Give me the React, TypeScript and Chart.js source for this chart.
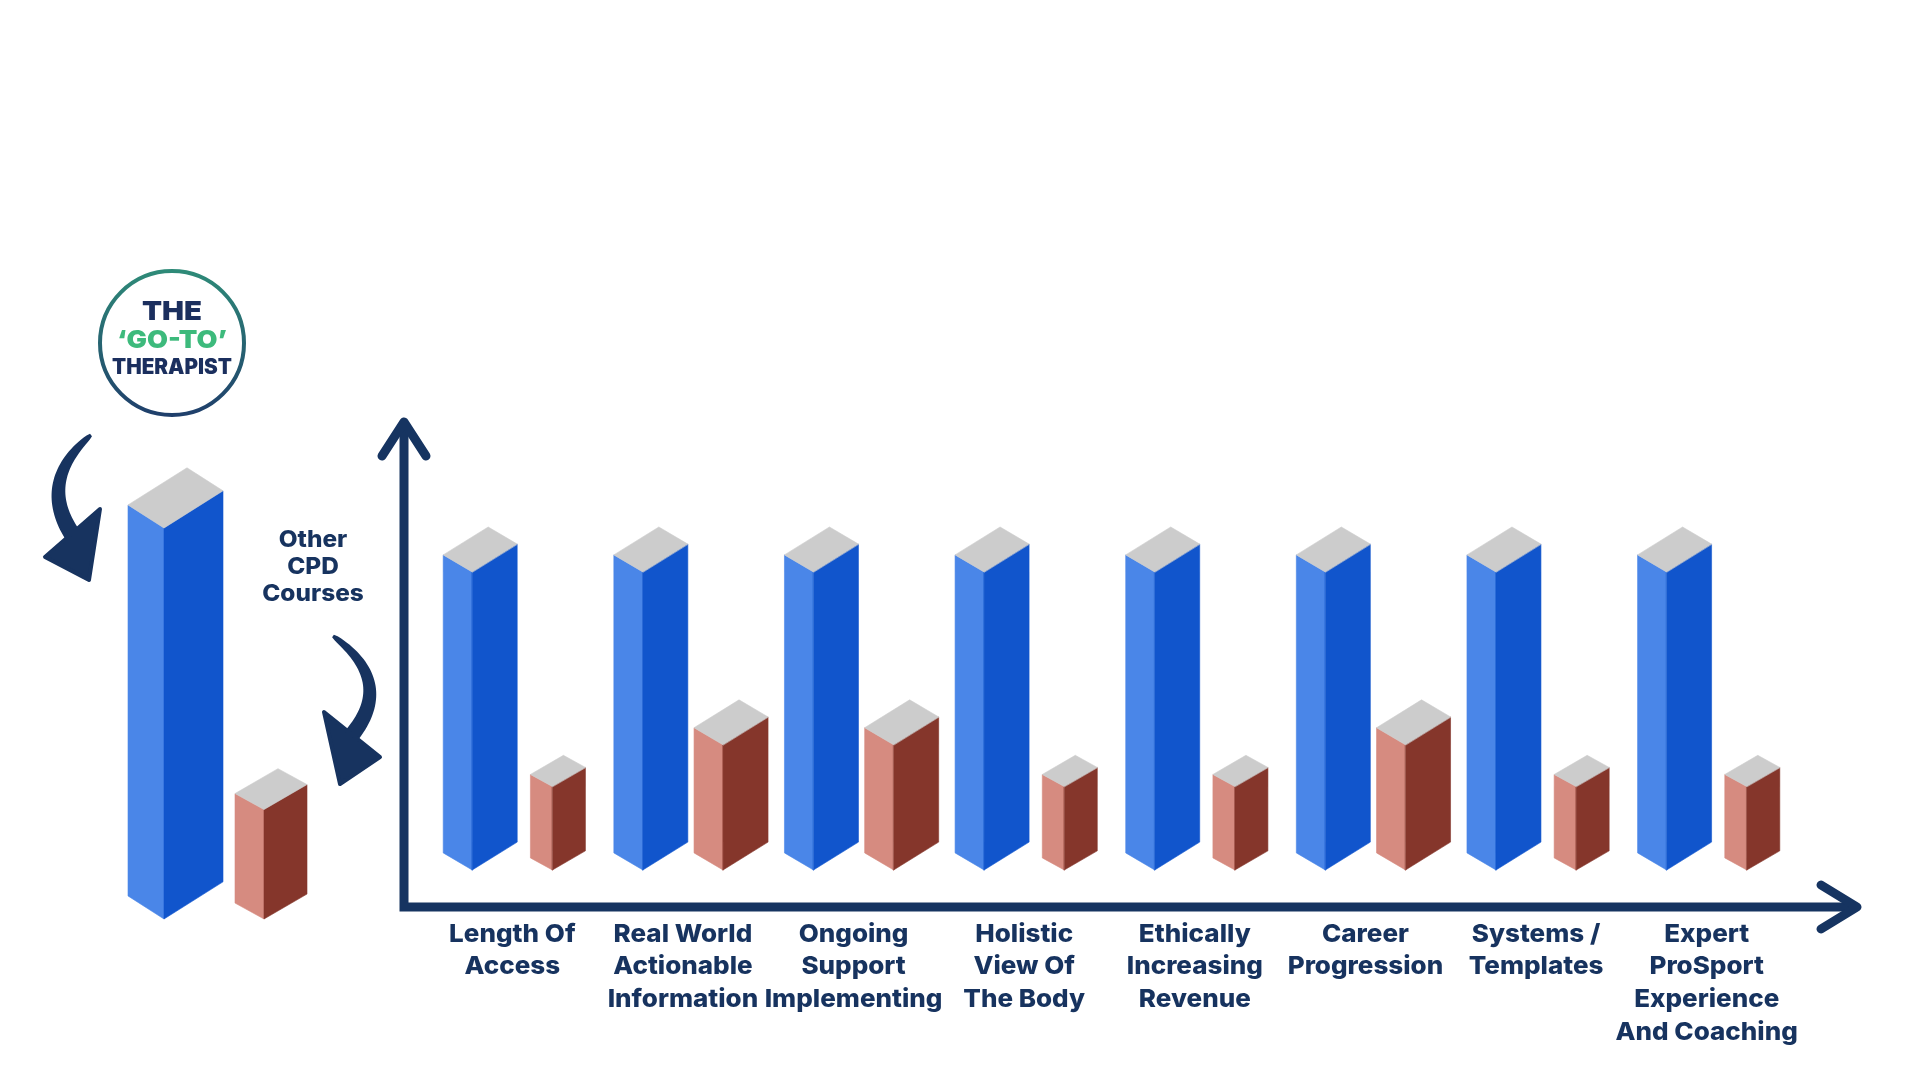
import React, { useEffect, useRef } from "react";
import { Chart, registerables } from "chart.js";

Chart.register(...registerables);

// ---------- DATA ----------
const categories: string[][] = [
  ["Length Of", "Access"],
  ["Real World", "Actionable", "Information"],
  ["Ongoing", "Support", "Implementing"],
  ["Holistic", "View Of", "The Body"],
  ["Ethically", "Increasing", "Revenue"],
  ["Career", "Progression"],
  ["Systems /", "Templates"],
  ["Expert", "ProSport", "Experience", "And Coaching"],
];
const goToValues = [100, 100, 100, 100, 100, 100, 100, 100];
const otherCpdValues = [28, 42, 42, 28, 28, 42, 28, 28];
const seriesNames = ["THE ‘GO-TO’ THERAPIST", "Other CPD Courses"];

const legendLabels: string[][] = [
  ["THE", "‘GO-TO’", "THERAPIST"],
  ["Other", "CPD", "Courses"],
];
const legendValues = [100, 28];
const yMax = 100;

// ---------- STYLE ----------
const NAVY = "#17335f";
const GREEN = "#3dba7c";
const BLUE = { left: "#4a86e8", right: "#1155cc", top: "#cccccc" };
const RED = { left: "#d68b80", right: "#85362b", top: "#cccccc" };
const FONT = "Inter, 'Open Sans', sans-serif";

type Faces = { left: string; right: string; top: string };

function poly(ctx: CanvasRenderingContext2D, pts: number[][], color: string) {
  ctx.fillStyle = color;
  ctx.strokeStyle = color;
  ctx.lineWidth = 0.6;
  ctx.beginPath();
  ctx.moveTo(pts[0][0], pts[0][1]);
  for (let i = 1; i < pts.length; i++) ctx.lineTo(pts[i][0], pts[i][1]);
  ctx.closePath();
  ctx.fill();
  ctx.stroke();
}

function drawBox(
  ctx: CanvasRenderingContext2D,
  x: number,
  top: number,
  base: number,
  wl: number,
  wr: number,
  sl: number,
  sr: number,
  c: Faces
) {
  const hl = wl * sl;
  const hr = wr * sr;
  poly(ctx, [[x, top], [x - wl, top - hl], [x - wl, base - hl], [x, base]], c.left);
  poly(ctx, [[x, top], [x + wr, top - hr], [x + wr, base - hr], [x, base]], c.right);
  poly(
    ctx,
    [[x, top], [x - wl, top - hl], [x - wl + wr, top - hl - hr], [x + wr, top - hr]],
    c.top
  );
}

function stretchText(ctx: CanvasRenderingContext2D, text: string, x: number, y: number, sx: number) {
  ctx.save();
  ctx.translate(x, y);
  ctx.scale(sx, 1);
  ctx.fillText(text, 0, 0);
  ctx.restore();
}

function fitText(ctx: CanvasRenderingContext2D, text: string, x: number, y: number, w: number) {
  const m = ctx.measureText(text).width || 1;
  stretchText(ctx, text, x, y, w / m);
}

function curvedArrow(
  ctx: CanvasRenderingContext2D,
  p0: number[],
  c: number[],
  p2: number[],
  w0: number,
  w1: number,
  head: number[][]
) {
  const N = 40;
  const L: number[][] = [];
  const R: number[][] = [];
  for (let i = 0; i <= N; i++) {
    const t = i / N;
    const a = (1 - t) * (1 - t), b = 2 * (1 - t) * t, d = t * t;
    const px = a * p0[0] + b * c[0] + d * p2[0];
    const py = a * p0[1] + b * c[1] + d * p2[1];
    const dx = 2 * (1 - t) * (c[0] - p0[0]) + 2 * t * (p2[0] - c[0]);
    const dy = 2 * (1 - t) * (c[1] - p0[1]) + 2 * t * (p2[1] - c[1]);
    const len = Math.hypot(dx, dy) || 1;
    const nx = -dy / len, ny = dx / len;
    const w = w0 + (w1 - w0) * Math.sqrt(t);
    L.push([px + (nx * w) / 2, py + (ny * w) / 2]);
    R.push([px - (nx * w) / 2, py - (ny * w) / 2]);
  }
  ctx.fillStyle = NAVY;
  ctx.strokeStyle = NAVY;
  ctx.beginPath();
  ctx.moveTo(L[0][0], L[0][1]);
  L.forEach((p) => ctx.lineTo(p[0], p[1]));
  for (let i = R.length - 1; i >= 0; i--) ctx.lineTo(R[i][0], R[i][1]);
  ctx.closePath();
  ctx.fill();
  ctx.lineJoin = "round";
  ctx.lineWidth = 4;
  ctx.beginPath();
  ctx.moveTo(head[0][0], head[0][1]);
  ctx.lineTo(head[1][0], head[1][1]);
  ctx.lineTo(head[2][0], head[2][1]);
  ctx.closePath();
  ctx.fill();
  ctx.stroke();
}

const mainBoxPlugin = {
  id: "mainBoxes",
  afterDatasetsDraw(chart: any) {
    const ctx: CanvasRenderingContext2D = chart.ctx;
    const area = chart.chartArea;
    ctx.save();
    // axes with arrows
    const ax = 404;
    const ay = area.bottom + 37;
    const yTop = area.top - 150;
    const xEnd = 1857;
    ctx.strokeStyle = "#163461";
    ctx.lineWidth = 9;
    ctx.lineJoin = "miter";
    ctx.lineCap = "butt";
    ctx.beginPath();
    ctx.moveTo(ax, yTop + 4);
    ctx.lineTo(ax, ay);
    ctx.lineTo(xEnd - 4, ay);
    ctx.stroke();
    ctx.lineCap = "round";
    ctx.lineJoin = "round";
    ctx.beginPath();
    ctx.moveTo(ax - 22, yTop + 34);
    ctx.lineTo(ax, yTop);
    ctx.lineTo(ax + 22, yTop + 34);
    ctx.stroke();
    ctx.beginPath();
    ctx.moveTo(xEnd - 36, ay - 22);
    ctx.lineTo(xEnd, ay);
    ctx.lineTo(xEnd - 36, ay + 22);
    ctx.stroke();

    // 3D bars
    const blueMeta = chart.getDatasetMeta(0);
    const redMeta = chart.getDatasetMeta(1);
    blueMeta.data.forEach((el: any) => {
      drawBox(ctx, el.x, el.y, el.base, 29, 45, 0.59, 0.62, BLUE);
    });
    redMeta.data.forEach((el: any, i: number) => {
      const v = otherCpdValues[i];
      if (v >= 40) drawBox(ctx, el.x, el.y, el.base, 29, 45, 0.59, 0.62, RED);
      else drawBox(ctx, el.x, el.y, el.base, 22, 33, 0.55, 0.58, RED);
    });

    // category labels
    const xs = chart.scales.x;
    ctx.fillStyle = NAVY;
    ctx.font = `800 25px ${FONT}`;
    ctx.textAlign = "center";
    ctx.textBaseline = "middle";
    categories.forEach((lines, i) => {
      const cx = xs.getPixelForValue(i);
      lines.forEach((ln, j) => stretchText(ctx, ln, cx, area.bottom + 64 + j * 32.7, 1.04));
    });
    ctx.restore();
  },
};

const legendPlugin = {
  id: "legendBoxes",
  afterDatasetsDraw(chart: any) {
    const ctx: CanvasRenderingContext2D = chart.ctx;
    ctx.save();
    const meta = chart.getDatasetMeta(0);
    const b = meta.data[0];
    const r = meta.data[1];
    drawBox(ctx, b.x, b.y, b.base, 36, 59, 0.64, 0.63, BLUE);
    drawBox(ctx, r.x, r.y, r.base, 29, 43, 0.55, 0.58, RED);

    // logo
    const cx = 172, cy = 343, rad = 72;
    const g = ctx.createLinearGradient(0, cy - rad, 0, cy + rad);
    g.addColorStop(0, "#2e8a78");
    g.addColorStop(1, "#1f3f6b");
    ctx.strokeStyle = g;
    ctx.lineWidth = 4;
    ctx.beginPath();
    ctx.arc(cx, cy, rad, 0, Math.PI * 2);
    ctx.stroke();
    ctx.textAlign = "center";
    ctx.textBaseline = "middle";
    const [l1, l2, l3] = legendLabels[0];
    ctx.fillStyle = "#1b2f5e";
    ctx.font = `900 26px ${FONT}`;
    fitText(ctx, l1, cx, 312, 60);
    ctx.fillStyle = GREEN;
    ctx.font = `900 25px ${FONT}`;
    fitText(ctx, l2, cx, 340, 110);
    ctx.fillStyle = "#1b2f5e";
    ctx.font = `900 21px ${FONT}`;
    fitText(ctx, l3, cx, 368, 120);

    // other CPD text
    ctx.fillStyle = NAVY;
    ctx.font = `800 23px ${FONT}`;
    legendLabels[1].forEach((ln, j) => stretchText(ctx, ln, 313, 540 + j * 27, 1.06));

    // curved arrows
    curvedArrow(ctx, [91, 435], [36, 482], [74, 537], 3, 17, [[45, 557], [89, 580], [100, 509]]);
    curvedArrow(ctx, [333, 636], [396, 682], [351, 736], 3, 16, [[324, 712], [340, 784], [380, 757]]);
    ctx.restore();
  },
};

export default function App() {
  const mainRef = useRef<HTMLCanvasElement | null>(null);
  const legRef = useRef<HTMLCanvasElement | null>(null);

  useEffect(() => {
    if (!mainRef.current || !legRef.current) return;
    const main = new Chart(mainRef.current, {
      type: "bar",
      data: {
        labels: categories,
        datasets: [
          { label: seriesNames[0], data: goToValues, backgroundColor: "rgba(0,0,0,0)" },
          { label: seriesNames[1], data: otherCpdValues, backgroundColor: "rgba(0,0,0,0)" },
        ],
      },
      options: {
        responsive: false,
        animation: false,
        devicePixelRatio: 1,
        events: [],
        layout: { padding: { left: 427, right: 128, top: 572, bottom: 210 } },
        categoryPercentage: 0.94,
        barPercentage: 0.9,
        scales: {
          x: { display: false },
          y: { display: false, min: 0, max: yMax },
        },
        plugins: { legend: { display: false }, tooltip: { enabled: false } },
      } as any,
      plugins: [mainBoxPlugin],
    });
    const leg = new Chart(legRef.current, {
      type: "bar",
      data: {
        labels: legendLabels.map((l) => l.join(" ")),
        datasets: [{ label: "legend", data: legendValues, backgroundColor: "rgba(0,0,0,0)" }],
      },
      options: {
        responsive: false,
        animation: false,
        devicePixelRatio: 1,
        events: [],
        layout: { padding: { left: 114, right: 106, top: 528, bottom: 161 } },
        scales: {
          x: { display: false },
          y: { display: false, min: 0, max: yMax },
        },
        plugins: { legend: { display: false }, tooltip: { enabled: false } },
      } as any,
      plugins: [legendPlugin],
    });
    return () => {
      main.destroy();
      leg.destroy();
    };
  }, []);

  return (
    <div
      style={{
        position: "fixed",
        left: 0,
        top: 0,
        width: 1920,
        height: 1080,
        background: "#ffffff",
        overflow: "hidden",
      }}
    >
      <canvas
        ref={mainRef}
        width={1920}
        height={1080}
        style={{ position: "absolute", left: 0, top: 0, width: 1920, height: 1080 }}
      />
      <canvas
        ref={legRef}
        width={420}
        height={1080}
        style={{ position: "absolute", left: 0, top: 0, width: 420, height: 1080 }}
      />
    </div>
  );
}
